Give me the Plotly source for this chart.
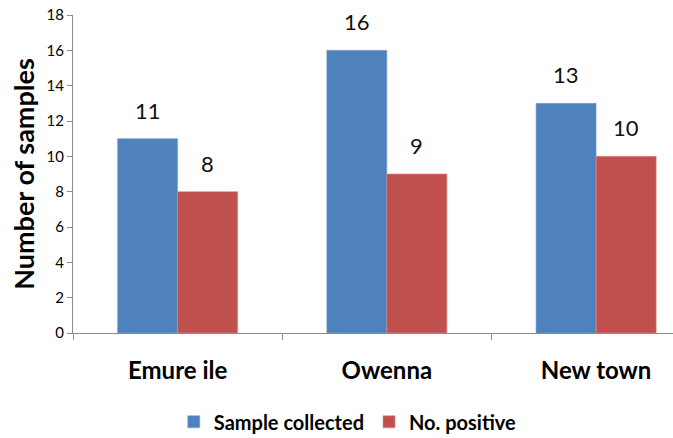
import plotly.graph_objects as go

categories = ["Emure ile", "Owenna", "New town"]
sample_collected = [11, 16, 13]
no_positive = [8, 9, 10]
series_names = ["Sample collected", "No. positive"]
y_ticks = [0, 2, 4, 6, 8, 10, 12, 14, 16, 18]

BLUE = "#4F81BD"
RED = "#C0504D"
FONT = "Lato"

fig = go.Figure()
fig.add_trace(go.Bar(x=categories, y=sample_collected, name=series_names[0],
                     marker=dict(color=BLUE, line=dict(color="#7FA3D3", width=0.6))))
fig.add_trace(go.Bar(x=categories, y=no_positive, name=series_names[1],
                     marker=dict(color=RED, line=dict(color="#D88A88", width=0.6))))

for i, cat in enumerate(categories):
    for vals, off in ((sample_collected, -0.143), (no_positive, 0.143)):
        fig.add_annotation(x=i + off, y=vals[i], text=str(vals[i]), showarrow=False,
                           xref="x", yref="y", yanchor="bottom", yshift=13,
                           font=dict(family=FONT, size=22, color="#111111"))

fig.update_layout(
    width=673, height=438,
    margin=dict(l=73, r=0, t=15, b=105),
    paper_bgcolor="white", plot_bgcolor="white",
    barmode="group", bargap=0.426, bargroupgap=0,
    font=dict(family=FONT, color="#000000"),
    showlegend=True,
    legend=dict(orientation="h", x=0.458, xanchor="center", xref="paper",
                y=0.037, yanchor="middle", yref="container",
                font=dict(family=FONT, size=20, color="#000000", weight="bold"),
                itemwidth=30, traceorder="normal"),
    xaxis=dict(type="category", range=[-0.5, 2.3675], showline=True, linecolor="#8C8C8C",
               linewidth=1, ticks="outside", tickson="boundaries", ticklen=6,
               tickcolor="#8C8C8C", showgrid=False, zeroline=False, automargin=False,
               tickfont=dict(family=FONT, size=24, color="#000000", weight="bold"),
               ticklabelstandoff=16),
    yaxis=dict(range=[0, 18], tickvals=y_ticks, showline=True, linecolor="#8C8C8C",
               linewidth=1, ticks="outside", ticklen=5, tickcolor="#8C8C8C",
               showgrid=False, zeroline=False, automargin=False,
               tickfont=dict(family=FONT, size=15, color="#000000"),
               title=dict(text="<b>Number of samples</b>", standoff=4,
                          font=dict(family=FONT, size=27, color="#000000"))),
)

fig.write_html(
    "out.html",
    config={"displayModeBar": False},
    post_script="document.body.style.margin='0';document.body.style.overflow='hidden';"
                "document.documentElement.style.overflow='hidden';",
)
